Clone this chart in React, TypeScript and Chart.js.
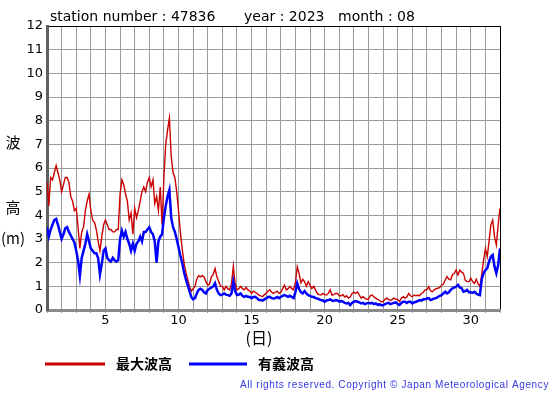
import { useEffect, useRef } from "react";
import { Chart, registerables } from "chart.js";

Chart.register(...registerables);

// ---- data ----
const STATION = "47836";
const YEAR = "2023";
const MONTH = "08";
const SAMPLE_HOURS = 3; // one value every 3 hours, starting at day 1 00h
const xLabelDays = [5, 10, 15, 20, 25, 30];
const seriesNames = ["最大波高", "有義波高"];

// maximum wave height (m)
const maxWave = [
  5.4, 4.4, 5.6, 5.5, 5.8, 6.1, 5.8, 5.5, // 1
  5.0, 5.3, 5.6, 5.6, 5.4, 4.8, 4.6, 4.2, // 2
  4.3, 3.5, 2.6, 3.3, 3.5, 4.2, 4.6, 4.9, // 3
  4.2, 3.8, 3.7, 3.4, 2.9, 2.5, 3.1, 3.6, // 4
  3.8, 3.6, 3.4, 3.4, 3.3, 3.3, 3.4, 3.4, // 5
  4.9, 5.5, 5.3, 4.9, 4.6, 3.8, 4.1, 3.2, // 6
  4.3, 3.9, 4.2, 4.6, 5.0, 5.2, 5.0, 5.4, // 7
  5.6, 5.2, 5.5, 4.5, 4.8, 4.2, 5.2, 3.6, // 8
  5.6, 7.0, 7.6, 8.1, 6.5, 5.8, 5.6, 5.0, // 9
  4.2, 3.3, 2.6, 2.0, 1.6, 1.3, 1.0, 0.8, // 10
  0.9, 1.0, 1.3, 1.45, 1.4, 1.45, 1.4, 1.2, // 11
  1.05, 1.1, 1.4, 1.5, 1.75, 1.4, 1.2, 1.0, // 12
  1.0, 0.85, 1.0, 0.9, 0.85, 1.1, 1.85, 1.1, // 13
  0.85, 0.9, 1.0, 0.9, 0.85, 0.95, 0.85, 0.8, // 14
  0.7, 0.8, 0.75, 0.7, 0.63, 0.6, 0.56, 0.65, // 15
  0.7, 0.8, 0.85, 0.75, 0.7, 0.75, 0.8, 0.7, // 16
  0.75, 0.9, 1.05, 0.85, 0.9, 1.0, 0.9, 0.85, // 17
  1.15, 1.83, 1.55, 1.15, 1.3, 1.2, 1.0, 1.2, // 18
  1.05, 0.9, 1.0, 0.85, 0.7, 0.65, 0.63, 0.7, // 19
  0.65, 0.63, 0.7, 0.85, 0.63, 0.65, 0.7, 0.7, // 20
  0.6, 0.6, 0.65, 0.55, 0.6, 0.5, 0.55, 0.7, // 21
  0.75, 0.7, 0.77, 0.63, 0.5, 0.56, 0.5, 0.45, // 22
  0.45, 0.6, 0.63, 0.55, 0.5, 0.45, 0.4, 0.35, // 23
  0.35, 0.45, 0.5, 0.45, 0.4, 0.45, 0.5, 0.45, // 24
  0.45, 0.36, 0.5, 0.56, 0.5, 0.55, 0.7, 0.6, // 25
  0.56, 0.63, 0.6, 0.62, 0.6, 0.7, 0.75, 0.85, // 26
  0.85, 0.99, 0.8, 0.77, 0.85, 0.9, 0.92, 0.95, // 27
  1.05, 1.1, 1.27, 1.41, 1.3, 1.27, 1.5, 1.55, // 28
  1.69, 1.48, 1.69, 1.6, 1.55, 1.25, 1.2, 1.2, // 29
  1.34, 1.2, 1.13, 1.3, 1.1, 1.0, 1.5, 2.1, // 30
  2.6, 2.25, 2.9, 3.6, 3.8, 3.1, 2.75, 3.6, // 31
  4.3,
];

// significant wave height (m)
const sigWave = [
  3.5, 3.1, 3.4, 3.6, 3.8, 3.85, 3.6, 3.3, // 1
  3.0, 3.2, 3.45, 3.5, 3.3, 3.15, 3.0, 2.85, // 2
  2.5, 2.1, 1.45, 2.2, 2.5, 2.8, 3.2, 2.9, // 3
  2.6, 2.5, 2.4, 2.4, 2.2, 1.5, 1.95, 2.5, // 4
  2.6, 2.2, 2.1, 2.05, 2.2, 2.1, 2.05, 2.1, // 5
  3.0, 3.35, 3.1, 3.3, 3.0, 2.8, 2.5, 2.8, // 6
  2.5, 2.8, 2.9, 3.1, 2.9, 3.3, 3.3, 3.4, // 7
  3.5, 3.3, 3.2, 2.9, 2.0, 2.9, 3.1, 3.2, // 8
  3.9, 4.4, 4.8, 5.07, 3.9, 3.5, 3.3, 3.0, // 9
  2.65, 2.3, 2.0, 1.6, 1.3, 1.05, 0.8, 0.55, // 10
  0.45, 0.5, 0.7, 0.85, 0.9, 0.85, 0.75, 0.7, // 11
  0.85, 0.9, 0.95, 1.0, 1.13, 0.85, 0.7, 0.63, // 12
  0.65, 0.7, 0.65, 0.63, 0.6, 0.7, 1.2, 0.8, // 13
  0.63, 0.65, 0.7, 0.6, 0.56, 0.6, 0.56, 0.55, // 14
  0.5, 0.55, 0.56, 0.5, 0.42, 0.42, 0.4, 0.45, // 15
  0.49, 0.55, 0.56, 0.5, 0.49, 0.5, 0.55, 0.5, // 16
  0.55, 0.6, 0.63, 0.6, 0.56, 0.6, 0.55, 0.5, // 17
  0.75, 1.13, 0.9, 0.75, 0.7, 0.8, 0.7, 0.63, // 18
  0.6, 0.56, 0.55, 0.5, 0.49, 0.45, 0.42, 0.4, // 19
  0.35, 0.4, 0.42, 0.45, 0.4, 0.38, 0.42, 0.4, // 20
  0.35, 0.38, 0.35, 0.3, 0.28, 0.3, 0.21, 0.3, // 21
  0.35, 0.38, 0.35, 0.32, 0.28, 0.3, 0.25, 0.28, // 22
  0.3, 0.28, 0.3, 0.25, 0.28, 0.22, 0.25, 0.2, // 23
  0.2, 0.25, 0.28, 0.3, 0.25, 0.28, 0.3, 0.32, // 24
  0.25, 0.21, 0.3, 0.35, 0.35, 0.3, 0.35, 0.35, // 25
  0.28, 0.32, 0.35, 0.38, 0.42, 0.4, 0.45, 0.45, // 26
  0.49, 0.5, 0.42, 0.45, 0.49, 0.5, 0.55, 0.6, // 27
  0.63, 0.7, 0.77, 0.7, 0.75, 0.85, 0.92, 0.95, // 28
  0.99, 1.06, 0.95, 0.92, 0.77, 0.8, 0.85, 0.75, // 29
  0.75, 0.72, 0.77, 0.7, 0.65, 0.63, 1.3, 1.55, // 30
  1.69, 1.76, 2.04, 2.25, 2.32, 1.83, 1.55, 1.9, // 31
  2.6,
];

const RED = "#cc0000";
const BLUE = "#0000ff";
const GRID = "#9a9a9a";

const toPoints = (arr: number[]) =>
  arr.map((v, i) => ({ x: 1 + (i * SAMPLE_HOURS) / 24, y: v }));

const textPlugin = {
  id: "extraTexts",
  afterDraw(chart: any) {
    const ctx = chart.ctx as CanvasRenderingContext2D;
    ctx.save();
    ctx.fillStyle = "#000";
    ctx.textBaseline = "alphabetic";
    ctx.textAlign = "left";
    ctx.font = '14px "DejaVu Sans"';
    ctx.fillText(`station number : ${STATION}`, 50, 21);
    ctx.fillText(`year : ${YEAR}`, 244, 21);
    ctx.fillText(`month : ${MONTH}`, 338, 21);

    ctx.textBaseline = "middle";
    ctx.textAlign = "center";
    ctx.font = '15px "Noto Sans CJK JP"';
    ctx.fillText("波", 13, 142);
    ctx.fillText("高", 13, 207);
    ctx.fillText("(m)", 13, 238);
    ctx.font = '16px "Noto Sans CJK JP"';
    ctx.fillText("(日)", 259, 338);

    // legend
    ctx.lineWidth = 3;
    ctx.strokeStyle = RED;
    ctx.beginPath();
    ctx.moveTo(45, 364);
    ctx.lineTo(105, 364);
    ctx.stroke();
    ctx.strokeStyle = BLUE;
    ctx.beginPath();
    ctx.moveTo(189, 364);
    ctx.lineTo(247, 364);
    ctx.stroke();
    ctx.textAlign = "left";
    ctx.font = 'bold 14px "Noto Sans CJK JP"';
    ctx.fillText(seriesNames[0], 116, 364);
    ctx.fillText(seriesNames[1], 258, 364);

    // copyright
    const copy = "All rights reserved. Copyright © Japan Meteorological Agency";
    ctx.font = '10px "Liberation Sans"';
    ctx.fillStyle = "#3636e6";
    (ctx as any).letterSpacing = "0px";
    const w = ctx.measureText(copy).width;
    const ls = (309 - w) / copy.length;
    (ctx as any).letterSpacing = `${ls}px`;
    ctx.fillText(copy, 240, 385);
    ctx.restore();
  },
};

export default function App() {
  const ref = useRef<HTMLCanvasElement | null>(null);

  useEffect(() => {
    if (!ref.current) return;
    const chart = new Chart(ref.current, {
      type: "line",
      data: {
        datasets: [
          {
            label: seriesNames[1],
            data: toPoints(sigWave),
            borderColor: BLUE,
            borderWidth: 2.5,
            pointRadius: 0,
            tension: 0,
          },
          {
            label: seriesNames[0],
            data: toPoints(maxWave),
            borderColor: RED,
            borderWidth: 1.4,
            pointRadius: 0,
            tension: 0,
          },
        ],
      },
      options: {
        responsive: false,
        animation: false,
        devicePixelRatio: 1,
        layout: { padding: { top: 26, right: 55, left: 0, bottom: 0 } },
        plugins: {
          legend: { display: false },
          tooltip: { enabled: false },
          title: { display: false },
        },
        scales: {
          x: {
            type: "linear",
            min: 1,
            max: 32,
            afterFit: (s: any) => {
              s.height = 85;
            },
            ticks: {
              stepSize: 1,
              autoSkip: false,
              maxRotation: 0,
              padding: 0,
              color: "#000",
              font: { family: "DejaVu Sans", size: 13 },
              callback: (v: any) => (xLabelDays.includes(Number(v)) ? String(v) : ""),
            },
            grid: {
              color: (c: any) => (c.tick && c.tick.value === 32 ? "#000" : GRID),
              lineWidth: 1,
              drawTicks: true,
              tickLength: 3,
              tickColor: GRID,
            },
            border: { display: true, color: "#8a8a8a", width: 3 },
          },
          y: {
            min: 0,
            max: 12,
            afterFit: (s: any) => {
              s.width = 47;
            },
            ticks: {
              stepSize: 1,
              padding: 4,
              color: "#000",
              font: { family: "DejaVu Sans", size: 13 },
            },
            grid: {
              color: (c: any) => (c.tick && c.tick.value === 12 ? "#000" : GRID),
              lineWidth: 1,
              drawTicks: false,
            },
            border: { display: true, color: "#606060", width: 3 },
          },
        },
      },
      plugins: [textPlugin],
    });
    return () => chart.destroy();
  }, []);

  return (
    <div style={{ position: "absolute", left: 0, top: 0, width: 555, height: 395, background: "#fff" }}>
      <canvas ref={ref} width={555} height={395} />
    </div>
  );
}
